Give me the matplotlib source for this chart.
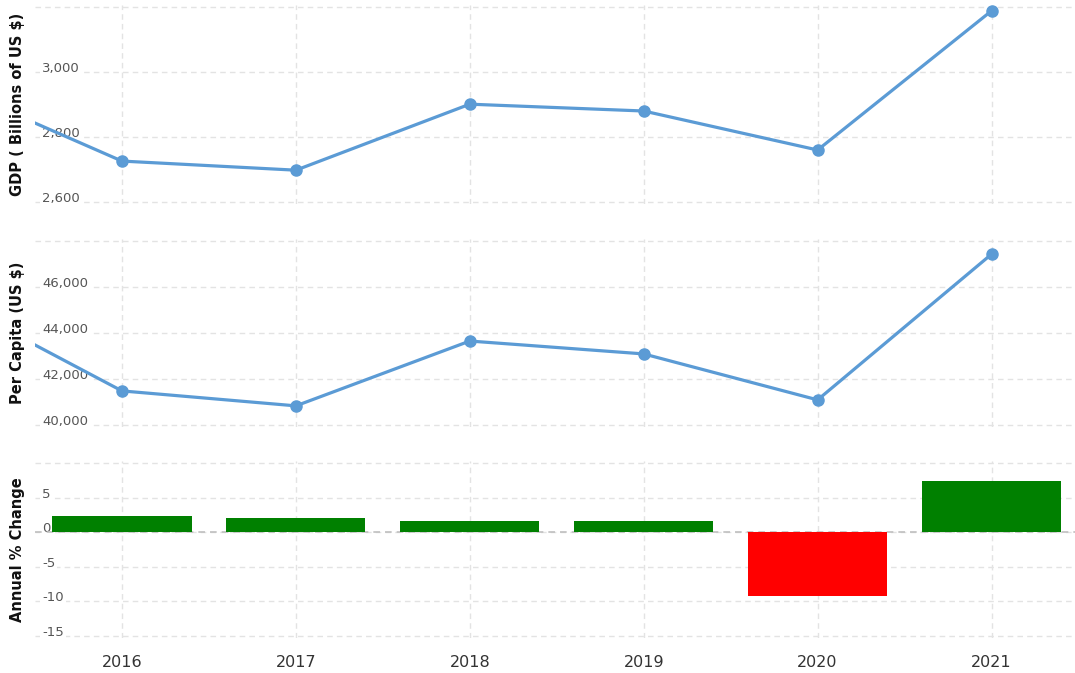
import matplotlib.pyplot as plt

years = [2015, 2016, 2017, 2018, 2019, 2020, 2021]
gdp = [2960, 2726, 2698, 2901, 2880, 2760, 3188]          # billions of US $
per_capita = [45480, 41480, 40830, 43650, 43090, 41090, 47430]  # US $
bar_years = [2016, 2017, 2018, 2019, 2020, 2021]
pct_change = [2.3, 2.1, 1.6, 1.6, -9.2, 7.4]

gdp_ticks = [2600, 2800, 3000, 3200]
gdp_labels = ['2,600', '2,800', '3,000', '']
pc_ticks = [40000, 42000, 44000, 46000, 48000]
pc_labels = ['40,000', '42,000', '44,000', '46,000', '']
pct_ticks = [-15, -10, -5, 0, 5, 10]
pct_labels = ['-15', '-10', '-5', '0', '5', '']

line_color = '#5b9bd5'
grid_kw = dict(color='#e3e3e3', linestyle=(0, (4, 3)), linewidth=1)

fig = plt.figure(figsize=(10.75, 6.73), dpi=100)
left, width = 35 / 1075, 1040 / 1075
ax1 = fig.add_axes([left, 1 - 204 / 673, width, 199 / 673])
ax2 = fig.add_axes([left, 1 - 427 / 673, width, 188 / 673], sharex=ax1)
ax3 = fig.add_axes([left, 1 - 638 / 673, width, 177 / 673], sharex=ax1)

ax1.plot(years, gdp, color=line_color, lw=2.3, marker='o', ms=8, zorder=3)
ax2.plot(years, per_capita, color=line_color, lw=2.3, marker='o', ms=8, zorder=3)
bar_colors = ['#008000' if v >= 0 else '#ff0000' for v in pct_change]
ax3.bar(bar_years, pct_change, width=0.8, color=bar_colors, zorder=3)

# small margins so the edge gridlines stay visible
ax1.set_ylim(2594, 3206)
ax2.set_ylim(39910, 48090)
ax3.set_ylim(-15.3, 10.3)
ax1.set_yticks(gdp_ticks, gdp_labels)
ax2.set_yticks(pc_ticks, pc_labels)
ax3.set_yticks(pct_ticks, pct_labels)
ax3.axhline(0, color='#c0c0c0', linestyle=(0, (4, 3)), lw=1.2, zorder=2)

ax1.set_xlim(2015.5, 2021.48)
ax3.set_xticks(bar_years, [str(y) for y in bar_years])

ylabels = ['GDP ( Billions of US $)', 'Per Capita (US $)', 'Annual % Change']
for ax, lab in zip([ax1, ax2, ax3], ylabels):
    for s in ax.spines.values():
        s.set_visible(False)
    ax.grid(True, **grid_kw)
    ax.set_axisbelow(True)
    ax.tick_params(axis='y', length=0, pad=-5, labelsize=9.5, labelcolor='#555555')
    ax.tick_params(axis='x', length=0, labelsize=11.5, labelcolor='#333333', pad=12)
    for t in ax.get_yticklabels():
        t.set_ha('left')
        t.set_va('baseline')
        t.set_bbox(dict(facecolor='white', edgecolor='none', pad=1.5))
    ax.set_ylabel(lab, fontsize=10.5, fontweight='bold', color='#111111')
    ax.yaxis.set_label_coords(-0.0095, 0.5)

ax1.tick_params(axis='x', labelbottom=False)
ax2.tick_params(axis='x', labelbottom=False)

fig.savefig('out.png', dpi=100)
